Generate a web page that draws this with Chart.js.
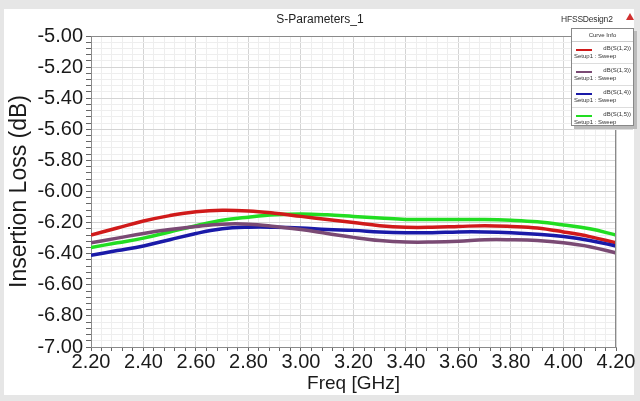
<!DOCTYPE html>
<html><head><meta charset="utf-8">
<script src="https://cdn.jsdelivr.net/npm/chart.js@4"></script>
<style>
html,body{margin:0;padding:0;background:#e6e6e6;width:640px;height:401px;overflow:hidden;font-family:"Liberation Sans",Arial,sans-serif;}
#panel{position:absolute;left:4px;top:9px;width:630px;height:386px;background:#fff;}
#wrap{position:absolute;left:0;top:0;width:640px;height:401px;}
#title{position:absolute;left:0;width:640px;top:12px;text-align:center;font-size:12px;color:#222;}
#design{position:absolute;left:561px;top:14px;font-size:8.5px;color:#333;letter-spacing:-0.2px;}
#tri{position:absolute;left:626px;top:13px;width:0;height:0;border-left:4px solid transparent;border-right:4px solid transparent;border-bottom:7px solid #d03030;}
#legend{position:absolute;left:571px;top:28px;width:61px;height:96px;background:#fff;border:1px solid #888;box-shadow:3px 3px 0 #bbb;font-size:6px;color:#333;}
#legend .hd{text-align:center;margin-top:3px;height:9px;border-bottom:1px solid #ccc;}
#legend .it{position:relative;height:21px;border-bottom:1px solid #ddd;}
#legend .ln{position:absolute;left:4px;top:7px;width:16px;height:1.5px;}
#legend .t1{position:absolute;right:2px;top:3px;}
#legend .t2{position:absolute;left:2px;top:11px;}
</style></head>
<body>
<div id="panel"></div>
<div id="wrap"><canvas id="c" width="640" height="401"></canvas></div>
<div id="title">S-Parameters_1</div>
<div id="design">HFSSDesign2</div>
<div id="tri"></div>
<div id="legend"></div>
<script>
const freqs = [2.2,2.3,2.4,2.5,2.6,2.7,2.8,2.9,3.0,3.1,3.2,3.3,3.4,3.5,3.6,3.7,3.8,3.9,4.0,4.1,4.2];
const seriesNames = ["dB(S(1,2))","dB(S(1,3))","dB(S(1,4))","dB(S(1,5))"];
const setupLabel = "Setup1 : Sweep";
const s12 = [-6.28,-6.235,-6.19,-6.155,-6.13,-6.12,-6.125,-6.14,-6.16,-6.18,-6.20,-6.22,-6.23,-6.23,-6.225,-6.22,-6.225,-6.235,-6.26,-6.29,-6.33];
const s13 = [-6.33,-6.30,-6.27,-6.245,-6.225,-6.21,-6.21,-6.225,-6.245,-6.27,-6.295,-6.315,-6.325,-6.325,-6.32,-6.31,-6.31,-6.315,-6.33,-6.355,-6.395];
const s14 = [-6.41,-6.38,-6.35,-6.31,-6.27,-6.24,-6.23,-6.23,-6.235,-6.245,-6.25,-6.26,-6.265,-6.265,-6.26,-6.26,-6.265,-6.275,-6.29,-6.315,-6.35];
const s15 = [-6.36,-6.33,-6.30,-6.26,-6.22,-6.185,-6.165,-6.15,-6.145,-6.15,-6.16,-6.17,-6.18,-6.18,-6.18,-6.18,-6.185,-6.195,-6.215,-6.24,-6.28];
const colors = ["#d01a1a","#7a4a74","#1a1aa8","#22dd22"];
const allSeries = [s12,s13,s14,s15];

const lg = document.getElementById('legend');
let h = '<div class="hd">Curve Info</div>';
seriesNames.forEach((n,i)=>{
  h += '<div class="it"><div class="ln" style="background:'+colors[i]+'"></div><div class="t1">'+n+'</div><div class="t2">'+setupLabel+'</div></div>';
});
lg.innerHTML = h;

const isMajor = v => Math.abs(Math.round(v*100) % 20) === 0;
const drawOrder = [1,2,0,3];
const datasets = drawOrder.map(i=>({
  label: seriesNames[i],
  data: freqs.map((f,k)=>({x:f,y:allSeries[i][k]})),
  borderColor: colors[i],
  borderWidth: 3.5,
  pointRadius: 0,
  tension: 0.4,
  fill: false
}));

const font = {family:'"Liberation Sans", Arial, sans-serif', size:20};
new Chart(document.getElementById('c'), {
  type:'line',
  data:{datasets},
  options:{
    responsive:false, animation:false,
    layout:{padding:{top:36,right:24,left:0,bottom:0}},
    plugins:{legend:{display:false},tooltip:{enabled:false}},
    scales:{
      x:{type:'linear',min:2.2,max:4.2,
        afterFit:s=>{s.height=54;},
        border:{color:'#8a8a8a',width:1},
        grid:{color:c=>isMajor(c.tick.value)?'#d4d4d4':'#eeeeee',tickColor:'#666',tickLength:4,drawTicks:true},
        ticks:{stepSize:0.04,autoSkip:false,maxRotation:0,padding:-1,color:'#1a1a1a',font,
          callback:v=>isMajor(v)?v.toFixed(2):''},
        title:{display:true,text:'Freq [GHz]',color:'#1a1a1a',font:{family:font.family,size:19},padding:{top:0,bottom:6}}
      },
      y:{type:'linear',min:-7,max:-5,
        afterFit:s=>{s.width=91;},
        border:{color:'#8a8a8a',width:1},
        grid:{color:c=>isMajor(c.tick.value)?'#d4d4d4':'#eeeeee',tickColor:'#666',tickLength:5},
        ticks:{stepSize:0.04,autoSkip:false,padding:3,color:'#1a1a1a',font,
          callback:v=>isMajor(v)?v.toFixed(2):''},
        title:{display:true,text:'Insertion Loss (dB)',color:'#1a1a1a',font:{family:font.family,size:23},padding:{top:6,bottom:0}}
      }
    }
  },
  plugins:[{id:'frame',afterDraw(ch){const a=ch.chartArea,c=ch.ctx;c.save();c.strokeStyle='#8a8a8a';c.lineWidth=1;c.beginPath();c.moveTo(a.left,a.top+0.5);c.lineTo(a.right-0.5,a.top+0.5);c.lineTo(a.right-0.5,a.bottom);c.stroke();c.restore();}}]
});
</script>
</body></html>
